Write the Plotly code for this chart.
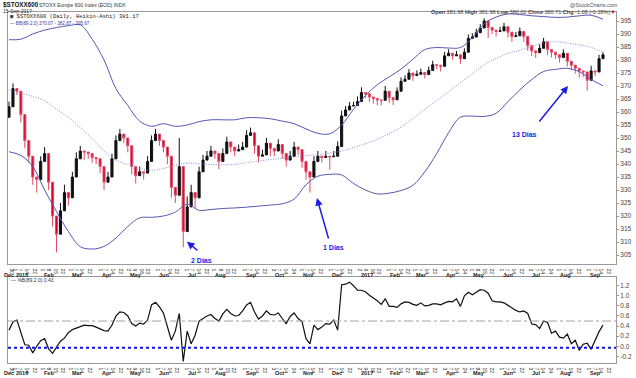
import numpy as np
import pandas as pd
import plotly.graph_objects as go

# ---------------- data ----------------
first_open = 358.0
close = [
    362, 369, 368, 359, 349, 343, 335, 334, 341, 344,
    333, 320, 313, 322, 329, 327, 335, 342, 345, 344.6,
    344, 342.5, 342, 339, 333, 335, 342, 349, 351.5, 350,
    347, 339, 335.5, 337, 336.5, 341, 349, 351.5, 349, 346.5,
    343, 331, 328, 339, 314, 323.5, 329, 327, 337, 341.5,
    343, 345, 344, 341, 344, 348.5, 346.5, 345, 345.5, 346.5,
    351, 352, 347, 343, 343.5, 348, 346, 345, 347.5, 344,
    341.5, 343, 346.5, 345.5, 341, 337, 335, 341, 343, 342.5,
    343, 342.8, 343, 346.7, 358.5, 360.8, 362.3, 362.5, 364, 367.5,
    367, 365.8, 365.2, 364.6, 364.5, 368, 365.5, 364.7, 368, 371.8,
    372.6, 375, 374, 374.5, 375.2, 374.4, 376, 378.2, 378, 377.6,
    381.6, 382.6, 381.6, 382, 380.5, 383, 388.3, 388.8, 390.5, 392.3,
    395, 392.5, 391.5, 391, 391.2, 392.8, 390.7, 389, 389.3, 391,
    389, 385.5, 383.5, 382.8, 384.5, 387, 384, 383, 382, 381,
    382.6, 379.5, 378, 376.8, 375.8, 375.4, 372.2, 375.8, 375.4, 380.5,
    382,
]
wicks = [
    2, 2, 1.5, 3, 3, 2.5, 3, 5, 2, 2.5,
    3, 4, 7, 3, 3, 3, 2, 2.5, 2, 3,
    2, 2, 2, 2.5, 3, 2, 2, 2, 2, 2,
    2.5, 3, 3, 2, 2.5, 2, 2, 2, 2, 2,
    3, 4, 3, 11, 6, 4, 3, 4, 2, 2,
    2, 2, 2, 3, 2, 2, 2, 2, 2, 2,
    2, 2, 3, 2.5, 2, 2, 3, 2, 2, 2,
    2.5, 2, 2, 2, 2.5, 3, 6, 2, 2, 2,
    2, 5, 2, 2, 2, 1.5, 1.5, 1.5, 2, 2,
    1.5, 2, 2, 2, 2, 2, 2, 2, 1.5, 1.5,
    1.5, 1.5, 2, 1.5, 1.5, 1.5, 1.5, 1.5, 1.5, 2,
    1.5, 1.5, 1.5, 1.5, 2, 1.5, 1.5, 1.5, 1.5, 1.5,
    1, 4, 1.5, 2, 1.5, 1.5, 2, 2, 1.5, 1.5,
    2, 2, 2, 2, 1.5, 1.5, 2, 2, 1.5, 2,
    1.5, 2, 2, 2, 2.5, 2, 4, 2, 1.5, 1.5,
    1,
]
band_upper = [
    387.8, 388, 390, 391.5, 392.5, 393.2, 393.5, 388, 380, 369,
    362.5, 356.5, 354.5, 355.5, 354.5, 355, 356.3, 357, 357, 357,
    357.8, 357.8, 357.4, 356.5, 355.5, 353.5, 351.8, 351.6, 355, 361,
    366.3, 370.5, 373.5, 376.5, 380.3, 384, 384.8, 384.6, 384.8, 388.5,
    394, 396.5, 397.7, 397.5, 397, 396.7, 396.4, 396.5, 397, 397.2,
    395.7,
]
band_mid = [
    368.3, 367.3, 366, 364.3, 361, 358, 354, 349.8, 345, 341.5,
    339.8, 338.3, 337.6, 338.3, 339.5, 340.3, 340.1, 339.8, 339.7, 339.8,
    340.5, 341.2, 341.7, 342.2, 342.7, 343.2, 343.6, 344.2, 345, 346.3,
    347.8, 349.5, 351.7, 354.2, 357.5, 361, 364.4, 367.8, 371.3, 374.7,
    378.2, 380.6, 382.5, 383.8, 385.2, 386.6, 387, 386.5, 385.8, 384.8,
    383,
]
band_lower = [
    344.7, 343.3, 339, 330, 321.7, 314, 308.2, 307.3, 308.3, 311.5,
    316, 319.3, 319.5, 320, 321.5, 324.5, 322.2, 322.5, 322.9, 323.1,
    323.4, 323.8, 324.2, 324.7, 326.5, 332, 335.3, 336, 335.8, 332.5,
    330, 328.5, 328.8, 329.8, 331.8, 337, 344, 352, 358, 358.4,
    358.3, 359.5, 364, 368.5, 372.5, 375.6, 376.4, 376.8, 375.5, 372.5,
    370.1,
]
pct_b = [
    .32, .48, .52, .28, .03, .02, -.13, .0, .11, .15,
    -.05, -.14, -.02, .1, .16, .27, .33, .36, .4, .42,
    .41, .41, .38, .35, .31, .3, .42, .6, .68, .67,
    .6, .45, .4, .46, .44, .52, .82, .87, .78, .66,
    .38, .12, .3, .65, -.3, .3, .05, .22, .5, .55,
    .6, .63, .55, .5, .64, .73, .65, .6, .61, .7,
    .82, .87, .68, .54, .6, .7, .63, .62, .66, .55,
    .45, .59, .66, .55, .49, .15, .05, .42, .33, .38,
    .45, .44, .52, .32, 1.22, 1.23, 1.27, 1.2, 1.11, 1.11,
    1.08, 1.01, .96, .9, .83, .94, .79, .79, .77, .84,
    .88, .87, .83, .81, .86, .8, .81, .84, .84, .82,
    .86, .89, .88, .94, .79, 1.0, 1.07, 1.02, 1.07, 1.12,
    1.11, 1.05, .9, .88, .88, .86, .81, .76, .71, .68,
    .7, .65, .44, .43, .35, .5, .47, .26, .3, .18,
    .16, .24, .05, .12, -.08, .04, .06, -.06, .12, .29,
    .42,
]
price_ticks = list(range(305, 400, 5))
pctb_ticks = [-0.2, 0.0, 0.2, 0.4, 0.6, 0.8, 1.0, 1.2]
month_labels = ["2016", "Feb", "Mar", "Apr", "May", "Jun", "Jul", "Aug", "Sep", "Oct", "Nov", "Dec",
                "2017", "Feb", "Mar", "Apr", "May", "Jun", "Jul", "Aug", "Sep"]
tick_days = [1, 7, 14, 22]

# ---------------- axis / positions ----------------
axis_days = pd.bdate_range("2015-12-25", "2017-09-29")
bar_x = np.arange(0, 3 * len(close), 3)          # one bar every 3 trading days
band_x = bar_x[::3]

opens = [first_open] + close[:-1]
highs, lows = [], []
for o, c, w in zip(opens, close, wicks):
    if c > o:
        highs.append(c + w); lows.append(o)
    else:
        highs.append(o); lows.append(c - w)

month_starts = pd.date_range("2016-01-01", "2017-09-01", freq="MS")
tickvals, ticktext = [], []
for d in ["2015-12-30"]:
    i = int(axis_days.searchsorted(pd.Timestamp(d)))
    tickvals.append(i); ticktext.append(str(axis_days[i].day))
for ms in month_starts:
    for dd in tick_days:
        i = int(axis_days.searchsorted(ms + pd.Timedelta(days=dd - 1)))
        if i < len(axis_days):
            tickvals.append(i); ticktext.append(str(axis_days[i].day))
month_pos = [int(axis_days.searchsorted(ms)) for ms in month_starts]

# pixel geometry helpers (plot area: x 8..616, y 12..363)
W, H = 636, 378
L, R, T, B = 8, 20, 12, 15
def pxx(px):
    return (px - L) / (W - L - R)
def pxy(py):
    return (H - B - py) / (H - T - B)

BB = "#5656b4"
BLUE = "#1c1ce6"
FONT = "Liberation Sans, Arial, sans-serif"

fig = go.Figure()
fig.add_trace(go.Scatter(x=band_x, y=band_upper, mode="lines", line=dict(color=BB, width=1, shape="spline"),
                         hoverinfo="skip", xaxis="x", yaxis="y"))
fig.add_trace(go.Scatter(x=band_x, y=band_lower, mode="lines", line=dict(color=BB, width=1, shape="spline"),
                         hoverinfo="skip", xaxis="x", yaxis="y"))
fig.add_trace(go.Scatter(x=band_x, y=band_mid, mode="lines",
                         line=dict(color="#8a8ad0", width=1, dash="1px,1.5px", shape="spline"),
                         hoverinfo="skip", xaxis="x", yaxis="y"))
fig.add_trace(go.Candlestick(x=bar_x, open=opens, high=highs, low=lows, close=close,
                             increasing=dict(line=dict(color="#111111", width=1), fillcolor="#111111"),
                             decreasing=dict(line=dict(color="#e24a66", width=1), fillcolor="#d4002a"),
                             hoverinfo="skip", xaxis="x", yaxis="y"))
fig.add_trace(go.Scatter(x=bar_x, y=pct_b, mode="lines", line=dict(color="#111111", width=1.2),
                         hoverinfo="skip", xaxis="x2", yaxis="y2"))

axis_common = dict(showline=True, mirror=True, linecolor="#9a9a9a", linewidth=1, showgrid=False,
                   zeroline=False)
xcommon = dict(axis_common, range=[(L - 9) / 1.32, (W - R - 9) / 1.32], tickmode="array",
               tickvals=tickvals, ticktext=ticktext, ticks="", ticklabelstandoff=0,
               tickfont=dict(size=5, color="#333", family=FONT),
               rangeslider=dict(visible=False))
top_dom = [pxy(264), 1]
bot_dom = [0, pxy(277)]
fig.update_layout(
    width=W, height=H, margin=dict(l=L, r=R, t=T, b=B, autoexpand=False),
    paper_bgcolor="white", plot_bgcolor="white", showlegend=False, hovermode=False,
    font=dict(family=FONT), boxgap=0.25,
    xaxis=dict(xcommon, domain=[0, 1], anchor="y"),
    xaxis2=dict(xcommon, domain=[0, 1], anchor="y2", matches="x"),
    yaxis=dict(axis_common, domain=top_dom, anchor="x", side="right",
               range=[395 - (264 - 21) / 2.6, 395 + (21 - 12) / 2.6],
               tickvals=price_ticks, ticks="outside", ticklen=2, tickcolor="#9a9a9a",
               tickfont=dict(size=6.5, color="#444", family=FONT)),
    yaxis2=dict(axis_common, domain=bot_dom, anchor="x2", side="right",
                range=[-0.331, 1.372], tickvals=pctb_ticks, ticktext=[f"{v:.1f}" for v in pctb_ticks],
                ticks="outside", ticklen=2, tickcolor="#9a9a9a",
                tickfont=dict(size=6.5, color="#444", family=FONT)),
)

shapes = [
    dict(type="line", xref="paper", x0=0, x1=1, yref="y2", y0=0.5, y1=0.5,
         line=dict(color="#a0a0a0", width=1, dash="dashdot")),
    dict(type="line", xref="paper", x0=0, x1=1, yref="y2", y0=-0.03, y1=-0.03,
         line=dict(color="#1010e0", width=2, dash="dot")),
]
fig.update_layout(shapes=shapes)

ann = []
def txt(x, y, text, size, color="#222", xanchor="left", yanchor="middle", family=FONT, xref="paper", yref="paper"):
    ann.append(dict(x=x, y=y, xref=xref, yref=yref, text=text, showarrow=False, xanchor=xanchor,
                    yanchor=yanchor, font=dict(size=size, color=color, family=family)))

# header
txt(pxx(1), pxy(4.5), "<b>$STOXX600</b>", 6.3, "#111")
txt(pxx(37), pxy(5), "STOXX Europe 600 Index (EOD) INDX", 5, "#333")
txt(pxx(1), pxy(11), "15-Sep-2017", 5, "#333")
txt(pxx(620), pxy(4.5), "@StockCharts.com", 5.5, "#555", xanchor="right")
txt(pxx(618), pxy(11.5),
    "<b>Open</b> 381.98 <b>High</b> 381.98 <b>Low</b> 380.02 <b>Close</b> 380.71 "
    "<b>Chg</b> -1.08 (-0.28%)<span style='color:#d0002a'>▼</span>", 5.5, "#444", xanchor="right")
txt(pxx(8), pxy(17), "▣ $STOXX600 (Daily, Heikin-Ashi) 381.17", 5.5, "#222",
    family="Liberation Mono, DejaVu Sans Mono, monospace")
txt(pxx(8), pxy(24), "— BB(89,2.0) 370.07 - 382.87 - 395.67", 4.6, "#3a3aa8")
txt(pxx(9), pxy(280), "— %B(89,2.0) 0.43", 5, "#333")

# month labels under both panels
for pos, lab in zip(month_pos, month_labels):
    for py in (274.5, 373.5):
        ann.append(dict(x=pos, y=pxy(py), xref="x", yref="paper", text=f"<b>{lab}</b>", showarrow=False,
                        xanchor="left", yanchor="middle", xshift=-1.5,
                        font=dict(size=5.5, color="#222", family=FONT)))
for py in (274.5, 373.5):
    txt(pxx(2), pxy(py), "<b>Dec</b>", 5.5, "#222")

# "Dias" annotations with arrows (tip, tail, text)
dias = [
    ("2 Dias", (134.8, 310.1), (143.9, 306.3), (146.2, 303.0)),
    ("1 Dias", (233.3, 326.9), (242.4, 310.8), (245.5, 307.7)),
    ("13 Dias", (423.5, 370.0), (400.8, 355.8), (390.2, 351.2)),
]
for label, tip, tail, tpos in dias:
    ann.append(dict(x=tip[0], y=tip[1], ax=tail[0], ay=tail[1], xref="x", yref="y", axref="x", ayref="y",
                    text="", showarrow=True, arrowhead=2, arrowsize=1, arrowwidth=1.5, arrowcolor=BLUE,
                    standoff=0, startstandoff=0))
    ann.append(dict(x=tpos[0], y=tpos[1], xref="x", yref="y", text=f"<b>{label}</b>", showarrow=False,
                    xanchor="center", yanchor="middle", font=dict(size=7, color=BLUE, family=FONT)))

fig.update_layout(annotations=ann)
fig.write_html("out.html", config={"displayModeBar": False, "staticPlot": True},
               post_script="document.body.style.margin='0';document.body.style.overflow='hidden';")
